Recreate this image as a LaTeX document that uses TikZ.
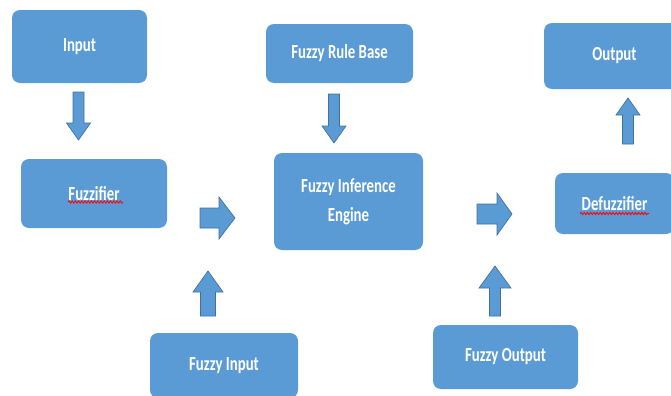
\documentclass[tikz,border=0pt]{standalone}
\usepackage{fontspec}
\setmainfont{Carlito}[FakeStretch=0.74]
\usepackage{tikz}
\usetikzlibrary{decorations.pathmorphing}

\definecolor{boxblue}{HTML}{5B9BD5}
\definecolor{edgeblue}{HTML}{41719C}

\begin{document}
\begin{tikzpicture}[
    x=0.75pt, y=-0.75pt,
    box/.style={
        fill=boxblue,
        rectangle,
        rounded corners=6pt,
        align=center,
        text=white,
        font=\fontsize{15}{21.75}\selectfont\bfseries
    },
    spellmark/.style={
        draw=red,
        line width=0.6pt,
        decorate,
        decoration={snake, amplitude=0.9pt, segment length=2.4pt}
    },
    pics/blockarrow/.style n args={4}{code={
        \path[fill=boxblue, draw=edgeblue, line width=0.5pt]
            (0,#2/2) -- (#1-#4,#2/2) -- (#1-#4,#3/2) -- (#1,0)
            -- (#1-#4,-#3/2) -- (#1-#4,-#2/2) -- (0,-#2/2) -- cycle;
    }}
]
\clip (0,0) rectangle (671,396);

\node[box, minimum width=101.25pt, minimum height=54.75pt] (input) at (79.5,46.5) {Input};
\node[box, minimum width=109.5pt, minimum height=51.75pt] (fuzzifier) at (94,193.5) {Fuzzifier};
\node[box, minimum width=110.25pt, minimum height=44.25pt] (rulebase) at (339.5,53.5) {Fuzzy Rule Base};
\node[box, minimum width=111.75pt, minimum height=72.75pt] (engine) at (348.5,201.5) {Fuzzy Inference\\Engine};
\node[box, minimum width=105.75pt, minimum height=49.5pt] (output) at (614.5,56) {Output};
\node[box, minimum width=89.25pt, minimum height=45.75pt] (defuzzifier) at (614.5,203.5) {Defuzzifier};
\node[box, minimum width=111pt, minimum height=48.75pt] (fuzzyin) at (224,365.5) {Fuzzy Input};
\node[box, minimum width=108.75pt, minimum height=48pt] (fuzzyout) at (505.5,357) {Fuzzy Output};

% spell-check marks
\draw[spellmark] ([shift={(-26,8.5)}]fuzzifier.center) -- ([shift={(29,8.5)}]fuzzifier.center);
\draw[spellmark] ([shift={(-34.5,10)}]defuzzifier.center) -- ([shift={(34.5,10)}]defuzzifier.center);

% block arrows
\pic[rotate=-90] (arrInput) at (78.5,92) {blockarrow={48}{11}{24}{17}};
\pic (arrFuzzifier) at (200,218) {blockarrow={35}{20}{42}{16}};
\pic[rotate=-90] (arrRules) at (334,94) {blockarrow={49}{11}{24}{17}};
\pic[rotate=90] (arrFuzzyIn) at (208,316) {blockarrow={45}{15}{30}{21}};
\pic (arrEngine) at (477,214) {blockarrow={35}{20}{42}{15}};
\pic[rotate=90] (arrFuzzyOut) at (495,316) {blockarrow={50}{11}{32}{22}};
\pic[rotate=90] (arrDefuzzifier) at (628,144) {blockarrow={46}{11}{24}{17}};

\end{tikzpicture}
\end{document}
